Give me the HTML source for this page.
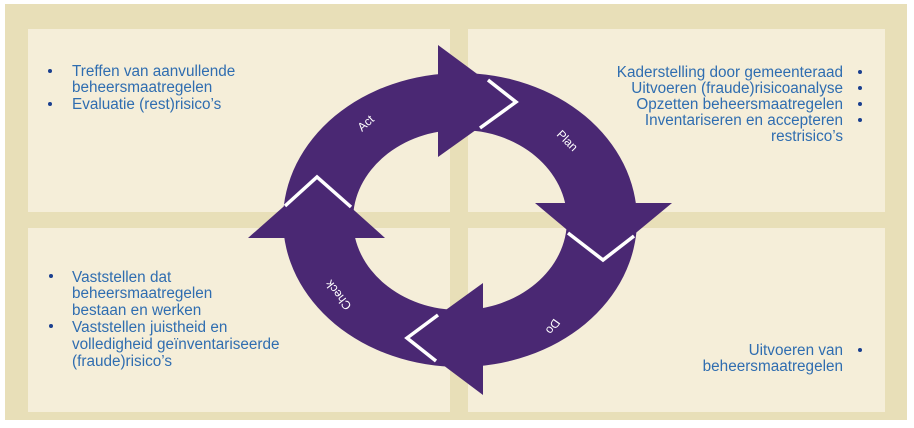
<!DOCTYPE html>
<html><head><meta charset="utf-8"><style>
html,body{margin:0;padding:0;background:#fff}
svg{display:block}
text{font-family:"Liberation Sans",sans-serif}
.t{font-size:15.3px;fill:#2f6db0}
.b{fill:#1a3f8f}
.l{font-size:12px;fill:#fff}
</style></head><body>
<svg width="914" height="428" viewBox="0 0 914 428">
<rect x="5" y="4" width="902" height="416" fill="#e8dfb8"/>
<rect x="28" y="29" width="422" height="183" fill="#f5eed9"/>
<rect x="468" y="29" width="417" height="183" fill="#f5eed9"/>
<rect x="28" y="228" width="422" height="184" fill="#f5eed9"/>
<rect x="468" y="228" width="417" height="184" fill="#f5eed9"/>

<path fill-rule="evenodd" fill="#4a2873" d="M283,220 a177,147 0 1,0 354,0 a177,147 0 1,0 -354,0 Z M353,220 a107,90 0 1,0 214,0 a107,90 0 1,0 -214,0 Z"/>
<polygon points="438,45 515,102 438,157" fill="#4a2873"/>
<polyline points="480,128 516,102 488,80" fill="none" stroke="#fff" stroke-width="3.5"/>
<polygon points="535,203 672,203 603,260" fill="#4a2873"/>
<polyline points="568,233 603,260 634,236" fill="none" stroke="#fff" stroke-width="3.5"/>
<polygon points="483,283 407,338 483,395" fill="#4a2873"/>
<polyline points="438,315 407,338 436,361" fill="none" stroke="#fff" stroke-width="3.5"/>
<polygon points="248,238 385,238 317,177" fill="#4a2873"/>
<polyline points="285,206 317,177 351,207" fill="none" stroke="#fff" stroke-width="3.5"/>

<text class="l" transform="translate(362,132) rotate(-42)">Act</text>
<text class="l" transform="translate(556,135) rotate(45)">Plan</text>
<text class="l" transform="translate(554,318) rotate(125)">Do</text>
<text class="l" transform="translate(352,306) rotate(-128)">Check</text>

<circle class="b" cx="50" cy="71" r="2"/>
<text class="t" x="72" y="76">Treffen van aanvullende</text>
<text class="t" x="72" y="92">beheersmaatregelen</text>
<circle class="b" cx="50" cy="104" r="2"/>
<text class="t" x="72" y="109">Evaluatie (rest)risico’s</text>

<g text-anchor="end">
<text class="t" x="843" y="77">Kaderstelling door gemeenteraad</text>
<text class="t" x="843" y="93">Uitvoeren (fraude)risicoanalyse</text>
<text class="t" x="843" y="109">Opzetten beheersmaatregelen</text>
<text class="t" x="843" y="125">Inventariseren en accepteren</text>
<text class="t" x="843" y="141">restrisico’s</text>
<text class="t" x="843" y="355">Uitvoeren van</text>
<text class="t" x="843" y="371">beheersmaatregelen</text>
</g>
<circle class="b" cx="860" cy="72" r="2"/>
<circle class="b" cx="860" cy="88" r="2"/>
<circle class="b" cx="860" cy="104" r="2"/>
<circle class="b" cx="860" cy="120" r="2"/>
<circle class="b" cx="860" cy="350" r="2"/>

<circle class="b" cx="51" cy="276" r="2"/>
<text class="t" x="72" y="282">Vaststellen dat</text>
<text class="t" x="72" y="298">beheersmaatregelen</text>
<text class="t" x="72" y="315">bestaan en werken</text>
<circle class="b" cx="51" cy="326" r="2"/>
<text class="t" x="72" y="332">Vaststellen juistheid en</text>
<text class="t" x="72" y="349">volledigheid geïnventariseerde</text>
<text class="t" x="72" y="366">(fraude)risico’s</text>
</svg>
</body></html>
